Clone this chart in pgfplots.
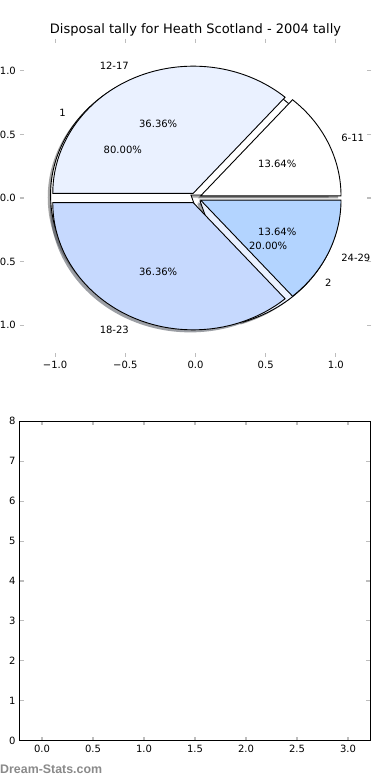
\documentclass[border=0pt]{standalone}
\usepackage{fontspec}
\setmainfont{DejaVu Sans}
\newfontfamily\wmfont{Liberation Sans}
\usepackage{pgfplots}
\pgfplotsset{compat=1.18}

\definecolor{cA}{HTML}{FFFFFF}
\definecolor{cB}{HTML}{EAF1FF}
\definecolor{cC}{HTML}{C6D9FE}
\definecolor{cD}{HTML}{B3D4FF}
\definecolor{tickgray}{HTML}{BDBDBD}

% pie values (outer pie: age bands, inner pie: 1 / 2)
\def\VA{3}\def\VB{8}\def\VC{8}\def\VD{3}
\def\VE{4}\def\VF{1}
\pgfmathsetmacro\SA{\VA+\VB+\VC+\VD}
\pgfmathsetmacro\aA{360*\VA/\SA}
\pgfmathsetmacro\aB{360*(\VA+\VB)/\SA}
\pgfmathsetmacro\aC{360*(\VA+\VB+\VC)/\SA}
\pgfmathsetmacro\aE{360*\VE/(\VE+\VF)}
\def\EX{0.04}
\def\XU{140.4pt}
\def\YU{127.2pt}

% #1 style, #2 start angle, #3 end angle, #4 explode, #5 dx, #6 dy
\newcommand{\PieWedge}[6]{%
  \path[#1] (axis cs:{#5+#4*cos((#2+#3)/2)},{#6+#4*sin((#2+#3)/2)})
    -- (axis cs:{#5+#4*cos((#2+#3)/2)+cos(#2)},{#6+#4*sin((#2+#3)/2)+sin(#2)})
    arc[start angle=#2, end angle=#3, x radius=\XU, y radius=\YU] -- cycle;}
\newcommand{\ShadowW}[3]{\PieWedge{fill=black!70!#3, fill opacity=0.5, draw=none}{#1}{#2}{\EX}{-0.02}{-0.02}}
\newcommand{\FaceW}[3]{\PieWedge{fill=#3, draw=black, line width=0.9pt, line join=miter}{#1}{#2}{\EX}{0}{0}}
\newcommand{\PieLabel}[5]{%
  \node[anchor=#5, inner sep=0pt] at (axis cs:{(1.1+\EX)*cos((#1+#2)/2)},{(1.1+\EX)*sin((#1+#2)/2)}) {#3};
  \node[anchor=center, inner sep=0pt] at (axis cs:{(0.6+\EX)*cos((#1+#2)/2)},{(0.6+\EX)*sin((#1+#2)/2)}) {#4};}

\begin{document}
\begin{tikzpicture}
\useasboundingbox (0pt,0pt) rectangle (390pt,780pt);
\clip (0pt,0pt) rectangle (390pt,780pt);
\fill[white] (0pt,0pt) rectangle (390pt,780pt);

\begin{axis}[
  at={(20pt,423pt)}, anchor=south west,
  scale only axis, width=351pt, height=318pt,
  xmin=-1.25, xmax=1.25, ymin=-1.25, ymax=1.25,
  axis line style={draw=none},
  clip=false,
  tick align=inside,
  major tick length=4pt,
  tick style={draw=tickgray, line width=1.1pt},
  xtick={-1,-0.5,0,0.5,1},
  xticklabels={−1.0,−0.5,0.0,0.5,1.0},
  ytick={-1,-0.5,0,0.5,1},
  yticklabels={−1.0,−0.5,0.0,0.5,1.0},
  ticklabel style={font=\fontsize{10}{12}\selectfont},
  xticklabel style={inner sep=0pt, yshift=-3.5pt},
  yticklabel style={inner sep=0pt, xshift=-4pt},
]
\ShadowW{0}{\aE}{cA}
\ShadowW{\aE}{360}{cB}
\ShadowW{0}{\aA}{cA}
\ShadowW{\aA}{\aB}{cB}
\ShadowW{\aB}{\aC}{cC}
\ShadowW{\aC}{360}{cD}
\FaceW{0}{\aE}{cA}
\FaceW{\aE}{360}{cB}
\FaceW{0}{\aA}{cA}
\FaceW{\aA}{\aB}{cB}
\FaceW{\aB}{\aC}{cC}
\FaceW{\aC}{360}{cD}
\begingroup\fontsize{10.3}{12}\selectfont
\PieLabel{0}{\aE}{1}{80.00\%}{east}
\PieLabel{\aE}{360}{2}{20.00\%}{west}
\PieLabel{0}{\aA}{6-11}{13.64\%}{west}
\PieLabel{\aA}{\aB}{12-17}{36.36\%}{east}
\PieLabel{\aB}{\aC}{18-23}{36.36\%}{east}
\PieLabel{\aC}{360}{24-29}{13.64\%}{west}
\endgroup
\end{axis}

\node[anchor=base, inner sep=0pt, font=\fontsize{13}{15}\selectfont] at (195.5pt,746.5pt) {Disposal tally for Heath Scotland - 2004 tally};

\begin{axis}[
  at={(19.7pt,39.3pt)}, anchor=south west,
  scale only axis, width=350.6pt, height=319.4pt,
  xmin=-0.219, xmax=3.219, ymin=0, ymax=8,
  axis line style={black, line width=0.9pt},
  tick align=inside,
  major tick length=4pt,
  tick style={draw=tickgray, line width=1.1pt},
  xtick={0,0.5,1,1.5,2,2.5,3},
  xticklabels={0.0,0.5,1.0,1.5,2.0,2.5,3.0},
  ytick={0,1,2,3,4,5,6,7,8},
  yticklabels={0,1,2,3,4,5,6,7,8},
  ticklabel style={font=\fontsize{10}{12}\selectfont},
  xticklabel style={inner sep=0pt, yshift=-4pt},
  yticklabel style={inner sep=0pt, xshift=-4pt},
]
\end{axis}

\node[anchor=base west, inner sep=0pt, text=black!46, font=\wmfont\bfseries\fontsize{12.4}{14}\selectfont] at (0pt,6pt) {Dream-Stats.com};
\end{tikzpicture}
\end{document}
